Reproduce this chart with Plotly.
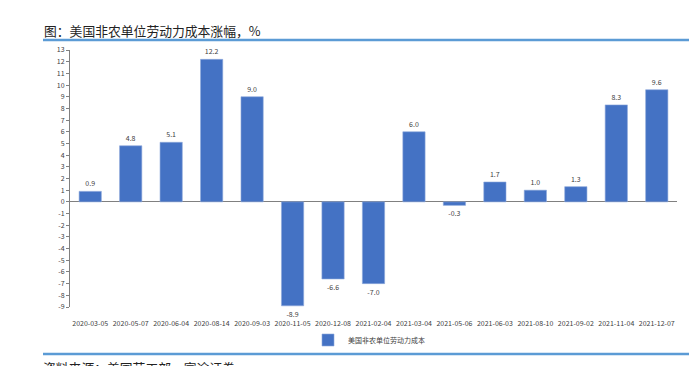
import plotly.graph_objects as go

dates = ["2020-03-05", "2020-05-07", "2020-06-04", "2020-08-14", "2020-09-03",
         "2020-11-05", "2020-12-08", "2021-02-04", "2021-03-04", "2021-05-06",
         "2021-06-03", "2021-08-10", "2021-09-02", "2021-11-04", "2021-12-07"]
values = [0.9, 4.8, 5.1, 12.2, 9.0, -8.9, -6.6, -7.0, 6.0, -0.3, 1.7, 1.0, 1.3, 8.3, 9.6]
series_name = "美国非农单位劳动力成本"
title_text = "图：美国非农单位劳动力成本涨幅，%"
source_text = "资料来源：美国劳工部，富途证券"
y_ticks = list(range(-9, 14))

W, H = 700, 366
def px(x):
    return x / W
def py(y):
    return 1 - y / H

FONT = "Noto Sans CJK SC, Microsoft YaHei, sans-serif"

fig = go.Figure()
fig.add_trace(go.Bar(
    x=dates, y=values, name=series_name,
    marker=dict(color="#4472C4", line=dict(color="#8FAADC", width=0.6)),
    text=[f"{v:.1f}" for v in values], textposition="outside",
    textfont=dict(size=7, color="#404040", family=FONT),
    cliponaxis=False,
))

fig.update_layout(
    width=W, height=H,
    margin=dict(l=0, r=0, t=0, b=0, pad=0, autoexpand=False),
    paper_bgcolor="white", plot_bgcolor="white",
    font=dict(family=FONT, color="#404040"),
    bargap=0.45,
    showlegend=True,
    legend=dict(orientation="h", x=px(369), xanchor="center", y=py(340), yanchor="middle",
                itemwidth=30,
                font=dict(size=7, color="#404040", family=FONT),
                bgcolor="rgba(0,0,0,0)"),
    xaxis=dict(domain=[px(70), px(677)], type="category", automargin=False,
               showline=False, showgrid=False, ticks="", tickangle=0,
               tickfont=dict(size=7, color="#404040"), ticklabelstandoff=11),
    yaxis=dict(domain=[py(307), py(50)], range=[-9, 13], automargin=False,
               tickvals=y_ticks, ticktext=[str(t) for t in y_ticks],
               showline=True, linecolor="#808080", linewidth=1,
               ticks="outside", ticklen=3, tickcolor="#808080",
               showgrid=False, zeroline=True, zerolinecolor="#808080", zerolinewidth=1,
               tickfont=dict(size=7, color="#404040")),
    shapes=[
        dict(type="line", xref="paper", yref="paper", x0=px(43), x1=px(689),
             y0=py(40), y1=py(40), line=dict(color="#5B9BD5", width=2.5)),
        dict(type="line", xref="paper", yref="paper", x0=px(43), x1=px(689),
             y0=py(354), y1=py(354), line=dict(color="#5B9BD5", width=2.5)),
    ],
    annotations=[
        dict(text=title_text, xref="paper", yref="paper", x=px(42), y=py(31),
             xanchor="left", yanchor="middle", showarrow=False,
             font=dict(size=12.8, color="#222222", family=FONT)),
        dict(text=source_text, xref="paper", yref="paper", x=px(42), y=py(357),
             xanchor="left", yanchor="top", showarrow=False, borderpad=0,
             font=dict(size=12.8, color="#222222", family=FONT)),
    ],
)

fig.write_html("out.html", config={"displayModeBar": False},
               post_script="document.body.style.margin='0';")
